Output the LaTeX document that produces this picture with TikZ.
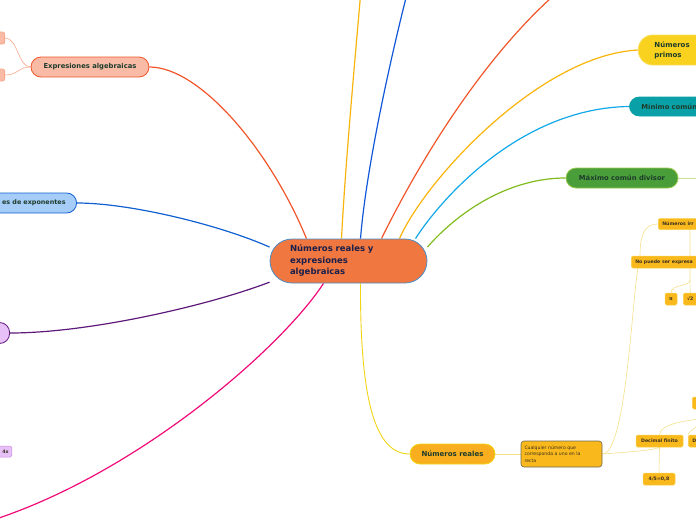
\documentclass[tikz,border=0pt]{standalone}
\usepackage{fontspec}
\setmainfont{DejaVu Sans}
\usetikzlibrary{backgrounds}

\definecolor{centrefill}{HTML}{F07840}
\definecolor{centreline}{HTML}{4A8CC8}
\definecolor{centretext}{HTML}{1A1E4A}
\definecolor{darktext}{HTML}{1E3C2C}
\definecolor{leaftext}{HTML}{3A3020}
\definecolor{salmonfill}{HTML}{F9BBA6}
\definecolor{salmonline}{HTML}{F6A88C}
\definecolor{redorange}{HTML}{F0562A}
\definecolor{skyfill}{HTML}{A6CCF8}
\definecolor{royal}{HTML}{1060D0}
\definecolor{lilacfill}{HTML}{E8C0F8}
\definecolor{lilacline}{HTML}{C888E0}
\definecolor{plum}{HTML}{5E1A7A}
\definecolor{pinkline}{HTML}{F00A78}
\definecolor{amber}{HTML}{F8B40A}
\definecolor{topblue}{HTML}{1058D8}
\definecolor{cyanline}{HTML}{10A8E8}
\definecolor{limeline}{HTML}{80BC1C}
\definecolor{primefill}{HTML}{F8D21E}
\definecolor{tealfill}{HTML}{0AA0A8}
\definecolor{greenfill}{HTML}{4A9E3A}
\definecolor{realfill}{HTML}{F8AE1E}
\definecolor{realline}{HTML}{F2D414}
\definecolor{leaffill}{HTML}{F9B81C}
\definecolor{leafline}{HTML}{F8D048}
\definecolor{twigline}{HTML}{F5E08A}
\definecolor{boxline}{HTML}{6E6A50}
\definecolor{palegreen}{HTML}{C8E090}

\begin{document}
\begin{tikzpicture}[x=1pt,y=-1pt]
  \def\W{696}   % picture width
  \def\H{520}   % picture height
  \def\fsz#1#2{\fontsize{#1}{#2}\selectfont}

  \tikzstyle{topic}=[draw,line width=0.8pt,rounded corners=10pt,minimum height=20pt,
    inner sep=0pt,text=darktext,font=\bfseries\fsz{6.8}{8}]
  \tikzstyle{leaf}=[draw=leafline,fill=leaffill,line width=0.5pt,rounded corners=1.5pt,
    minimum height=12pt,inner xsep=4pt,inner ysep=1pt,text=leaftext,font=\bfseries\fsz{4.7}{5.5}]
  \tikzstyle{branch}=[line width=1.2pt]
  \tikzstyle{twig}=[twigline,line width=0.6pt]

  \useasboundingbox (0,0) rectangle (\W,\H);
  \clip (0,0) rectangle (\W,\H);

  % CENTRAL TOPIC
  \node[draw=centreline,fill=centrefill,line width=0.8pt,rounded corners=22pt,
    minimum width=157pt,minimum height=44pt,text width=117pt,align=left,
    text=centretext,font=\bfseries\fsz{8.5}{11.5}] (centre) at (348.5,261)
    {Números reales y\\expresiones\\algebraicas};

  % LEFT SIDE
  \node[topic,draw=redorange,fill=salmonfill,minimum width=118pt] (expr) at (90,67)
    {Expresiones algebraicas};
  \node[topic,draw=salmonline,fill=salmonfill,rounded corners=2pt,minimum width=20pt,
    minimum height=12pt,anchor=east] (exprA) at (5,38) {};
  \node[topic,draw=salmonline,fill=salmonfill,rounded corners=2pt,minimum width=20pt,
    minimum height=12pt,anchor=east] (exprB) at (5,75) {};
  \node[topic,draw=royal,fill=skyfill,text width=100pt,align=right,inner xsep=11pt,
    anchor=east,font=\bfseries\fsz{6.4}{8}] (leyes) at (77,203) {es de exponentes};
  \node[topic,draw=plum,fill=lilacfill,minimum width=40pt,minimum height=21pt,
    anchor=east] (lilac) at (10,333) {};
  \node[leaf,draw=lilacline,fill=lilacfill,minimum height=11pt,text width=20pt,
    align=right,anchor=east,inner xsep=3pt] (quad) at (12,451.5) {4x};

  % RIGHT SIDE
  \node[topic,draw=primefill!70!white,fill=primefill,minimum height=30pt,rounded corners=14pt,
    text width=60pt,align=left,inner xsep=16pt,anchor=west,font=\bfseries\fsz{7}{10}]
    (primos) at (638,50) {Números\\primos};
  \node[topic,draw=tealfill,fill=tealfill,minimum height=19pt,text width=80pt,align=left,
    inner xsep=12pt,anchor=west] (minimo) at (629,106.5) {Mínimo común};
  \node[topic,draw=limeline!80!white,fill=greenfill,minimum width=112pt] (maximo)
    at (622,178) {Máximo común divisor};

  % NUMEROS REALES
  \node[topic,draw=realline,fill=realfill,minimum width=85pt,font=\bfseries\fsz{7}{8}]
    (reales) at (452.5,454) {Números reales};
  \node[draw=boxline,fill=leaffill,line width=0.6pt,rounded corners=3pt,minimum width=81pt,
    minimum height=26pt,text width=74pt,align=left,inner sep=0pt,text=leaftext,
    font=\fsz{4.6}{6.2}] (cualq) at (561.5,454)
    {Cualquier número que\\corresponda a uno en la\\recta};
  \node[leaf,anchor=west,minimum height=11pt,text width=52pt,align=left] (irr) at (658,224) {Números irr};
  \node[leaf,anchor=west,text width=80pt,align=left] (nopuede) at (631,262) {No puede ser expresa};
  \node[leaf,minimum width=12pt,inner xsep=1pt] (pi) at (671,299) {π};
  \node[leaf,anchor=west,minimum width=14pt,inner xsep=1pt] (raiz) at (683,299) {√2};
  \node[leaf,minimum width=47pt,inner xsep=3pt] (decfin) at (659.5,441) {Decimal finito};
  \node[leaf,anchor=west,text width=20pt,align=left] (dinf) at (688,441) {D};
  \node[leaf,anchor=west,minimum width=20pt] (ratstub) at (692,403) {};
  \node[leaf,minimum width=32pt] (frac) at (659,479) {4/5=0,8};

  \coordinate (upA) at (361,-10);
  \coordinate (upB) at (408,-10);
  \coordinate (upC) at (560,-10);
  \coordinate (downend) at (-20,524);
  \coordinate (maxend) at (710,178);
  \coordinate (racional) at (712,418);
  \coordinate (fork) at (690,280);

  % CONNECTORS
  \begin{scope}[on background layer]
    \clip (0,0) rectangle (\W,\H);
    \draw[branch,redorange] ([xshift=-42pt]centre.north) .. controls (270,150) and (200,67) .. (expr.east);
    \draw[branch,royal] (centre.170) .. controls (220,225) and (130,203) .. (leyes.east);
    \draw[branch,plum] (centre.195) .. controls (210,305) and (90,333) .. (lilac.east);
    \draw[branch,pinkline] ([xshift=-25pt]centre.south) .. controls (280,350) and (130,480) .. (downend);
    \draw[branch,amber] ([xshift=-7pt]centre.north) .. controls (345,170) and (354,70) .. (upA);
    \draw[branch,topblue] ([xshift=12pt]centre.north) .. controls (366,170) and (390,60) .. (upB);
    \draw[branch,redorange] ([xshift=33pt]centre.north) .. controls (425,150) and (490,50) .. (upC);
    \draw[branch,amber] ([xshift=51pt]centre.north) .. controls (425,180) and (540,55) .. (primos.west);
    \draw[branch,cyanline] ([xshift=67pt]centre.north) .. controls (440,200) and (520,108) .. (minimo.west);
    \draw[branch,limeline] (centre.10) .. controls (460,210) and (510,178) .. (maximo.west);
    \draw[branch,realline,line width=0.9pt] ([xshift=12pt]centre.south) .. controls (360,400) and (375,454) .. (reales.west);

    \draw[twig,salmonline] (expr.west) .. controls (18,67) and (18,38) .. (exprA.east);
    \draw[twig,salmonline] (expr.west) .. controls (18,67) and (18,75) .. (exprB.east);
    \draw[twig,palegreen,line width=0.8pt] (maximo.east) -- (maxend);

    \draw[twig] (reales.east) -- (cualq.west);
    \draw[twig] (cualq.east) .. controls (626,454) and (632,300) .. ([xshift=7pt]nopuede.south west);
    \draw[twig] (cualq.east) .. controls (630,452) and (655,450) .. (decfin.south);
    \draw[twig] (decfin.south) -- (frac.north);
    \draw[twig] ([xshift=9pt]nopuede.north west) .. controls (640,232) and (646,224) .. (irr.west);
    \draw[twig] ([xshift=32pt]irr.south west) -- (fork) .. controls (690,287) and (671,284) .. (pi.north);
    \draw[twig] (fork) -- (raiz.north);
    \draw[twig] (racional) .. controls (685,420) and (660,424) .. (decfin.north);
    \draw[twig] (racional) .. controls (700,424) and (690,430) .. (dinf.north west);
  \end{scope}
\end{tikzpicture}
\end{document}
